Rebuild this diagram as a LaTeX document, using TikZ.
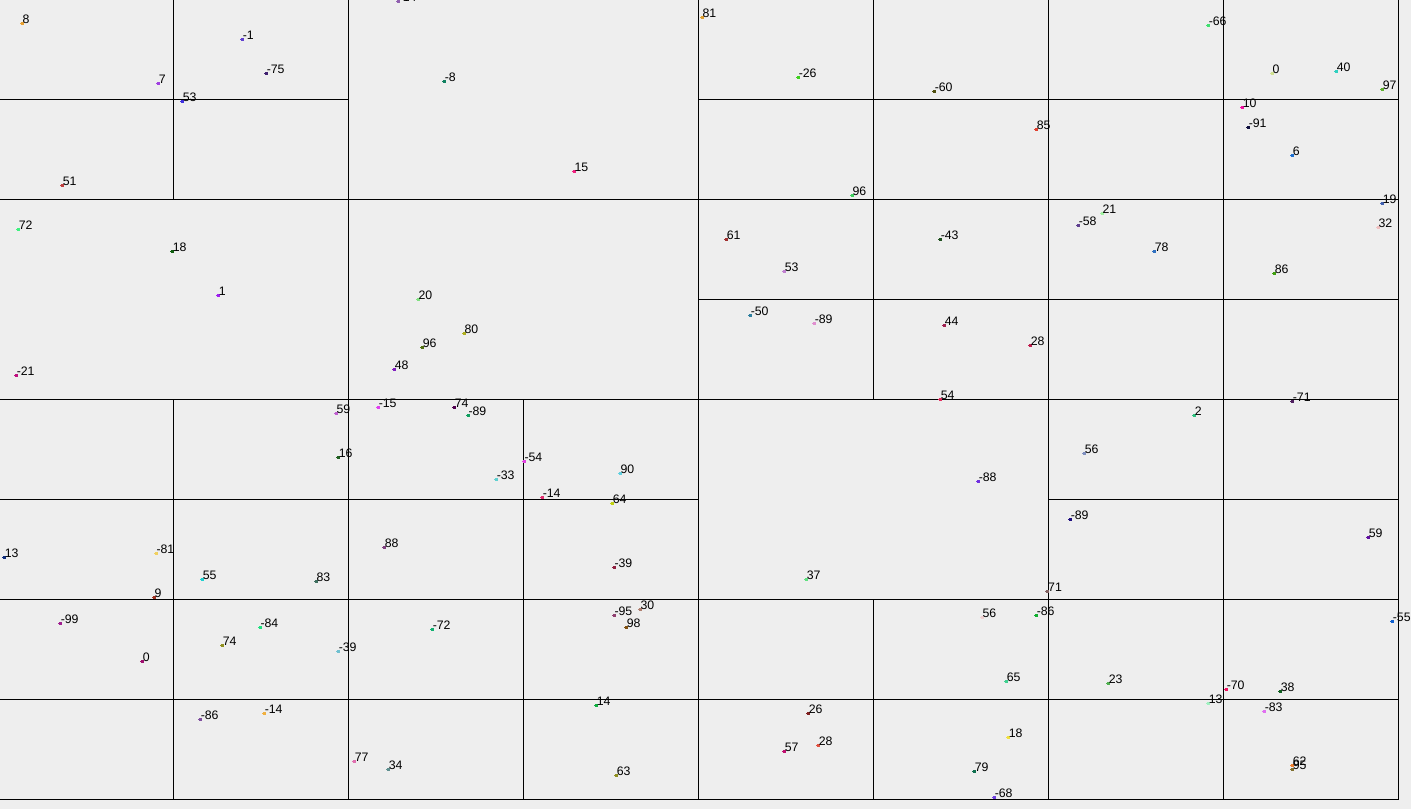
\documentclass[tikz,border=0pt]{standalone}
\usepackage{fontspec}
\setmainfont{Liberation Sans}
\begin{document}
\begin{tikzpicture}[x=1pt,y=-1pt,
  gridline/.style={draw=black,line width=1pt},
  lbl/.style={anchor=base west,inner sep=0pt,font=\fontsize{12.3}{12.3}\selectfont,text=black}]
\fill[fill={rgb,255:red,238;green,238;blue,238}] (0,0) rectangle (1411,809);
\useasboundingbox (0,0) rectangle (1411,809);
% grid
\foreach \yy/\xa/\xb in {99.5/0/348.5, 99.5/698.5/1398.5, 199.5/0/1398.5, 299.5/698.5/1398.5,
  399.5/0/1398.5, 499.5/0/698.5, 499.5/1048.5/1398.5, 599.5/0/1398.5, 699.5/0/1398.5, 799.5/0/1398.5}
  \draw[gridline] (\xa,\yy) -- (\xb,\yy);
\foreach \xx/\ya/\yb in {173.5/0/199.5, 173.5/399.5/799.5, 348.5/0/799.5, 523.5/399.5/799.5,
  698.5/0/799.5, 873.5/0/399.5, 873.5/599.5/799.5, 1048.5/0/799.5, 1223.5/0/799.5, 1398.5/0/799.5}
  \draw[gridline] (\xx,\ya) -- (\xx,\yb);
% points
\foreach \px/\py/\t/\col [count=\i] in {
22/23.3/8/E8A030, 242.3/39.3/-1/6040D0, 266.3/73/-75/402070, 158.3/83.3/7/A040E0,
182.3/101/53/4030E0, 62.3/185.3/51/C04040, 18.3/229.3/72/40F080, 172.3/251.3/18/106010,
398.3/1/-14/9060B0, 444.3/81.3/-8/108060, 574/171.3/15/F02080, 702/17.3/81/E0A030,
798.3/77.3/-26/40D020, 934.3/91.3/-60/505010, 1036.3/129.3/85/E04030, 852/195.3/96/40D060,
726.3/239.3/61/A03030, 940.3/239.3/-43/205020, 784.3/271/53/C080D0, 1208.3/25.3/-66/40E070,
1272/73.3/0/D0E090, 1336.3/71.3/40/30D0C0, 1382.3/89.3/97/60B030, 1242.3/107.3/10/F010A0,
1248.3/127.3/-91/101040, 1292.3/155.3/6/2070D0, 1382.3/203.3/19/4060B0, 1378/227.3/32/F0C0C0,
1102/213.3/21/A0F0A0, 1078.3/225.3/-58/604090, 1154.3/251.3/78/3070C0, 1274.3/273.3/86/40A010,
218.3/295.3/1/A020F0, 16.3/375.3/-21/C01080, 336/413.3/59/C060D0, 338.3/457.3/16/206020,
418/299.3/20/80E080, 464/333.3/80/B0B020, 422.3/347.3/96/507010, 394.3/369.3/48/8020C0,
378.3/407.3/-15/E040F0, 454.3/407.3/74/500050, 468/415.3/-89/10A060, 524/461.3/-54/E040E0,
496.3/479.3/-33/60D0D0, 620/473.3/90/60D0E0, 542.3/497.3/-14/E03070, 612.3/503.3/64/C0D010,
384.3/547.3/88/804080, 750.3/315.3/-50/3080A0, 814.3/323.3/-89/E090D0, 944.3/325.3/44/A02050,
1030.3/345.3/28/C02050, 940.3/399.3/54/E03060, 978.3/481.3/-88/7030E0, 1194.3/415.3/2/30C080,
1292.3/401.3/-71/502060, 1084.3/453.3/56/8090C0, 1070.3/519.3/-89/201080, 1368.3/537.3/59/6010A0,
4.3/557.3/13/103080, 156/553.3/-81/F0D060, 202.3/579.3/55/20D0D0, 316/581.3/83/407060,
154/597.3/9/A03020, 60.3/623.3/-99/A02090, 260/627.3/-84/20E080, 222.3/645.3/74/909020,
142.3/661.3/0/A01070, 338.3/651.3/-39/70C0D0, 200.3/719.3/-86/8050A0, 264.3/713.3/-14/F0B040,
614/567.3/-39/902040, 614/615.3/-95/904070, 640/609.3/30/B08070, 626.3/627.3/98/805010,
432.3/629.3/-72/10B070, 596.3/705.3/14/10B040, 354.3/761.3/77/E070B0, 388.3/769.3/34/609090,
616.3/775.3/63/909020, 806.3/579.3/37/60E080, 1047.7/591.3/71/806060, 982/617.3/56/F0D0D0,
1036.3/615.3/-86/10B030, 1006.3/681.3/65/40D090, 808.3/713.3/26/802020, 818.3/745.3/28/E05040,
784.3/751.3/57/C01070, 1008.3/737.3/18/F0E040, 974.3/771.3/79/107050, 994.3/797.3/-68/7040E0,
1392.3/621.3/-55/1060D0, 1108.3/683.3/23/50B050, 1226.3/689.3/-70/F01060, 1280.3/691.3/38/106020,
1208.3/703.3/13/A0F0C0, 1264.3/711.3/-83/E070F0, 1292.3/765.3/62/F08030, 1292.3/769.3/95/807030}
{
  \definecolor{pc}{HTML}{\col}
  \fill[pc] (\px-1.5,\py-1.5) rectangle (\px+1.5,\py+1.5);
  \fill[pc] (\px-2.5,\py) rectangle (\px-1.5,\py+1);
  \node[lbl] (p\i) at (\px+0.3,\py+0.3) {\t};
}
\end{tikzpicture}
\end{document}
